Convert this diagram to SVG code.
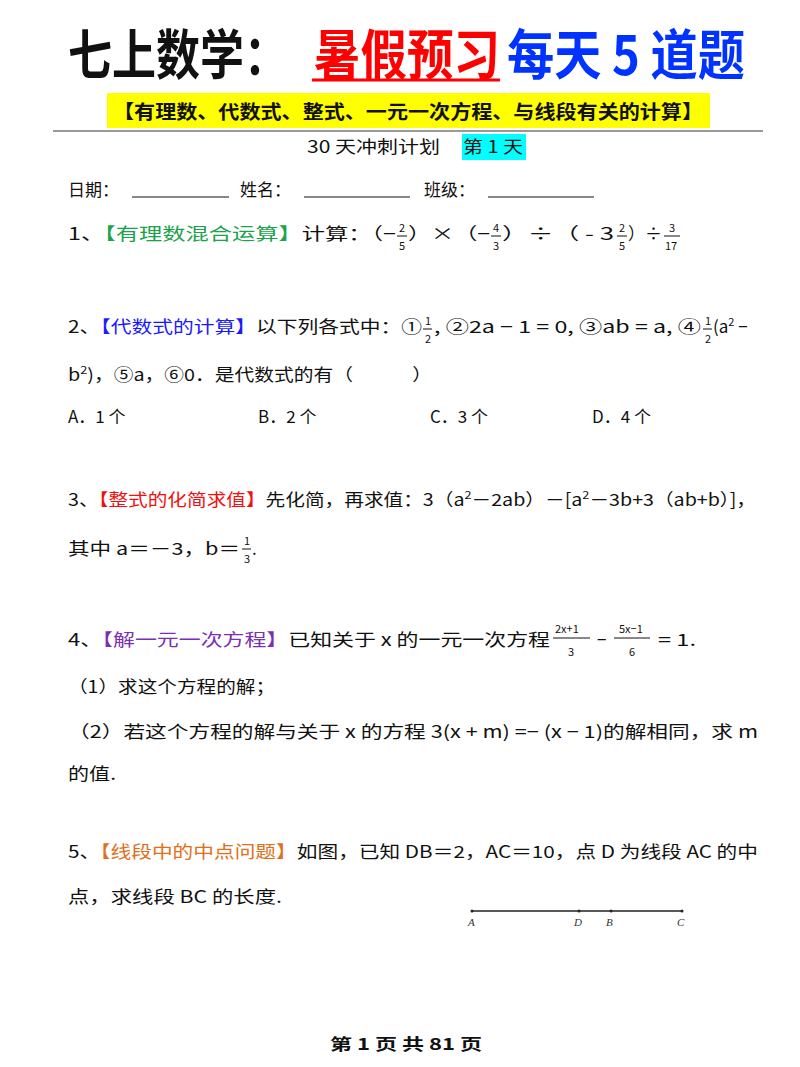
<svg xmlns="http://www.w3.org/2000/svg" width="800" height="1067" viewBox="0 0 800 1067">
<style>
text{font-family:"Noto Sans CJK SC","Liberation Sans",sans-serif;font-size:17px;fill:#111}
.t{font-size:54px;font-weight:bold}
.s{font-size:11px}
.lb{font-family:"Liberation Serif",serif;font-style:italic;font-size:11px;fill:#333}
</style>
<rect width="800" height="1067" fill="#fff"/>
<text class="t" x="68" y="75" textLength="220" lengthAdjust="spacingAndGlyphs">七上数学：</text>
<text class="t" x="314" y="75" style="fill:#f00" textLength="186" lengthAdjust="spacingAndGlyphs">暑假预习</text>
<line x1="312" y1="80" x2="500" y2="80" stroke="#f00" stroke-width="3"/>
<text class="t" x="507" y="75" style="fill:#0033ff" textLength="238" lengthAdjust="spacingAndGlyphs">每天 5 道题</text>
<rect x="107" y="93" width="603" height="35" fill="#ffff00"/>
<text x="113" y="119" style="font-size:19px;font-weight:bold" textLength="590" lengthAdjust="spacingAndGlyphs">【有理数、代数式、整式、一元一次方程、与线段有关的计算】</text>
<line x1="53" y1="131" x2="763" y2="131" stroke="#777" stroke-width="1.5"/>
<text x="307" y="153" textLength="133" lengthAdjust="spacingAndGlyphs">30 天冲刺计划</text>
<rect x="462" y="134" width="64" height="26" fill="#00ffff"/>
<text x="463" y="153" textLength="60" lengthAdjust="spacingAndGlyphs">第 1 天</text>
<text x="68" y="196">日期：</text>
<line x1="132" y1="197" x2="229" y2="197" stroke="#111"/>
<text x="240" y="196">姓名：</text>
<line x1="304" y1="197" x2="410" y2="197" stroke="#111"/>
<text x="424" y="196">班级：</text>
<line x1="488" y1="197" x2="594" y2="197" stroke="#111"/>

<text x="68" y="240" textLength="328" lengthAdjust="spacingAndGlyphs">1、<tspan style="fill:#1aa34a">【有理数混合运算】</tspan>计算：（−</text>
<text class="s" x="399" y="232">2</text><line x1="397" y1="236" x2="407" y2="236" stroke="#111"/><text class="s" x="399" y="250">5</text>
<text x="408" y="240" textLength="82" lengthAdjust="spacingAndGlyphs">）×（−</text>
<text class="s" x="493" y="232">4</text><line x1="491" y1="236" x2="501" y2="236" stroke="#111"/><text class="s" x="493" y="250">3</text>
<text x="502" y="240" textLength="112" lengthAdjust="spacingAndGlyphs">）÷（ - 3</text>
<text class="s" x="619" y="232">2</text><line x1="617" y1="236" x2="627" y2="236" stroke="#111"/><text class="s" x="619" y="250">5</text>
<text x="628" y="240" textLength="34" lengthAdjust="spacingAndGlyphs">）÷</text>
<text class="s" x="669" y="232">3</text><line x1="664" y1="236" x2="680" y2="236" stroke="#111"/><text class="s" x="665" y="250">17</text>

<text x="68" y="333" textLength="354" lengthAdjust="spacingAndGlyphs">2、<tspan style="fill:#1a1aff">【代数式的计算】</tspan>以下列各式中：①</text>
<text class="s" x="425" y="325">1</text><line x1="423" y1="329" x2="432" y2="329" stroke="#111"/><text class="s" x="425" y="343">2</text>
<text x="434" y="333" textLength="267" lengthAdjust="spacingAndGlyphs">, ②2a − 1 = 0, ③ab = a, ④</text>
<text class="s" x="705" y="325">1</text><line x1="703" y1="329" x2="712" y2="329" stroke="#111"/><text class="s" x="705" y="343">2</text>
<text x="713" y="333">(a<tspan class="s" dy="-7">2</tspan><tspan dy="7"> −</tspan></text>
<text x="68" y="381" textLength="364" lengthAdjust="spacingAndGlyphs">b<tspan class="s" dy="-7">2</tspan><tspan dy="7">)，⑤a，⑥0．是代数式的有（　　　）</tspan></text>
<text x="68" y="423">A．1 个</text>
<text x="258" y="423">B．2 个</text>
<text x="430" y="423">C．3 个</text>
<text x="592" y="423">D．4 个</text>

<text x="68" y="506" textLength="688" lengthAdjust="spacingAndGlyphs">3、<tspan style="fill:#f01010">【整式的化简求值】</tspan>先化简，再求值：3（a<tspan class="s" dy="-7">2</tspan><tspan dy="7">－2ab）－[a</tspan><tspan class="s" dy="-7">2</tspan><tspan dy="7">－3b+3（ab+b）]，</tspan></text>
<text x="68" y="555" textLength="172" lengthAdjust="spacingAndGlyphs">其中 a＝－3，b＝</text>
<text class="s" x="244" y="545">1</text><line x1="242" y1="549" x2="251" y2="549" stroke="#111"/><text class="s" x="244" y="563">3</text>
<text x="252" y="555">.</text>

<text x="68" y="646" textLength="482" lengthAdjust="spacingAndGlyphs">4、<tspan style="fill:#7a2fb5">【解一元一次方程】</tspan>已知关于 x 的一元一次方程</text>
<text class="s" x="555" y="633">2x+1</text><line x1="553" y1="638" x2="590" y2="638" stroke="#111"/><text class="s" x="568" y="656">3</text>
<text x="597" y="646">−</text>
<text class="s" x="619" y="633">5x−1</text><line x1="614" y1="638" x2="650" y2="638" stroke="#111"/><text class="s" x="629" y="656">6</text>
<text x="658" y="646" textLength="38" lengthAdjust="spacingAndGlyphs">= 1.</text>
<text x="68" y="693" textLength="207" lengthAdjust="spacingAndGlyphs">（1）求这个方程的解；</text>
<text x="68" y="738" textLength="690" lengthAdjust="spacingAndGlyphs">（2）若这个方程的解与关于 x 的方程 3(x + m) =− (x − 1)的解相同，求 m</text>
<text x="68" y="780" textLength="48" lengthAdjust="spacingAndGlyphs">的值.</text>

<text x="68" y="858" textLength="690" lengthAdjust="spacingAndGlyphs">5、<tspan style="fill:#e0701a">【线段中的中点问题】</tspan>如图，已知 DB＝2，AC＝10，点 D 为线段 AC 的中</text>
<text x="68" y="903" textLength="214" lengthAdjust="spacingAndGlyphs">点，求线段 BC 的长度.</text>

<g id="figure">
<line x1="472" y1="911" x2="682" y2="911" stroke="#222" stroke-width="1.3"/>
<circle cx="472" cy="911" r="1.5" fill="#222"/><circle cx="579" cy="911" r="1.5" fill="#222"/>
<circle cx="611" cy="911" r="1.5" fill="#222"/><circle cx="682" cy="911" r="1.5" fill="#222"/>
<text class="lb" x="468" y="926">A</text><text class="lb" x="574" y="926">D</text>
<text class="lb" x="606" y="926">B</text><text class="lb" x="677" y="926">C</text>
</g>

<text x="330" y="1050" style="font-weight:bold;font-size:16px" textLength="152" lengthAdjust="spacingAndGlyphs">第 1 页 共 81 页</text>
</svg>
